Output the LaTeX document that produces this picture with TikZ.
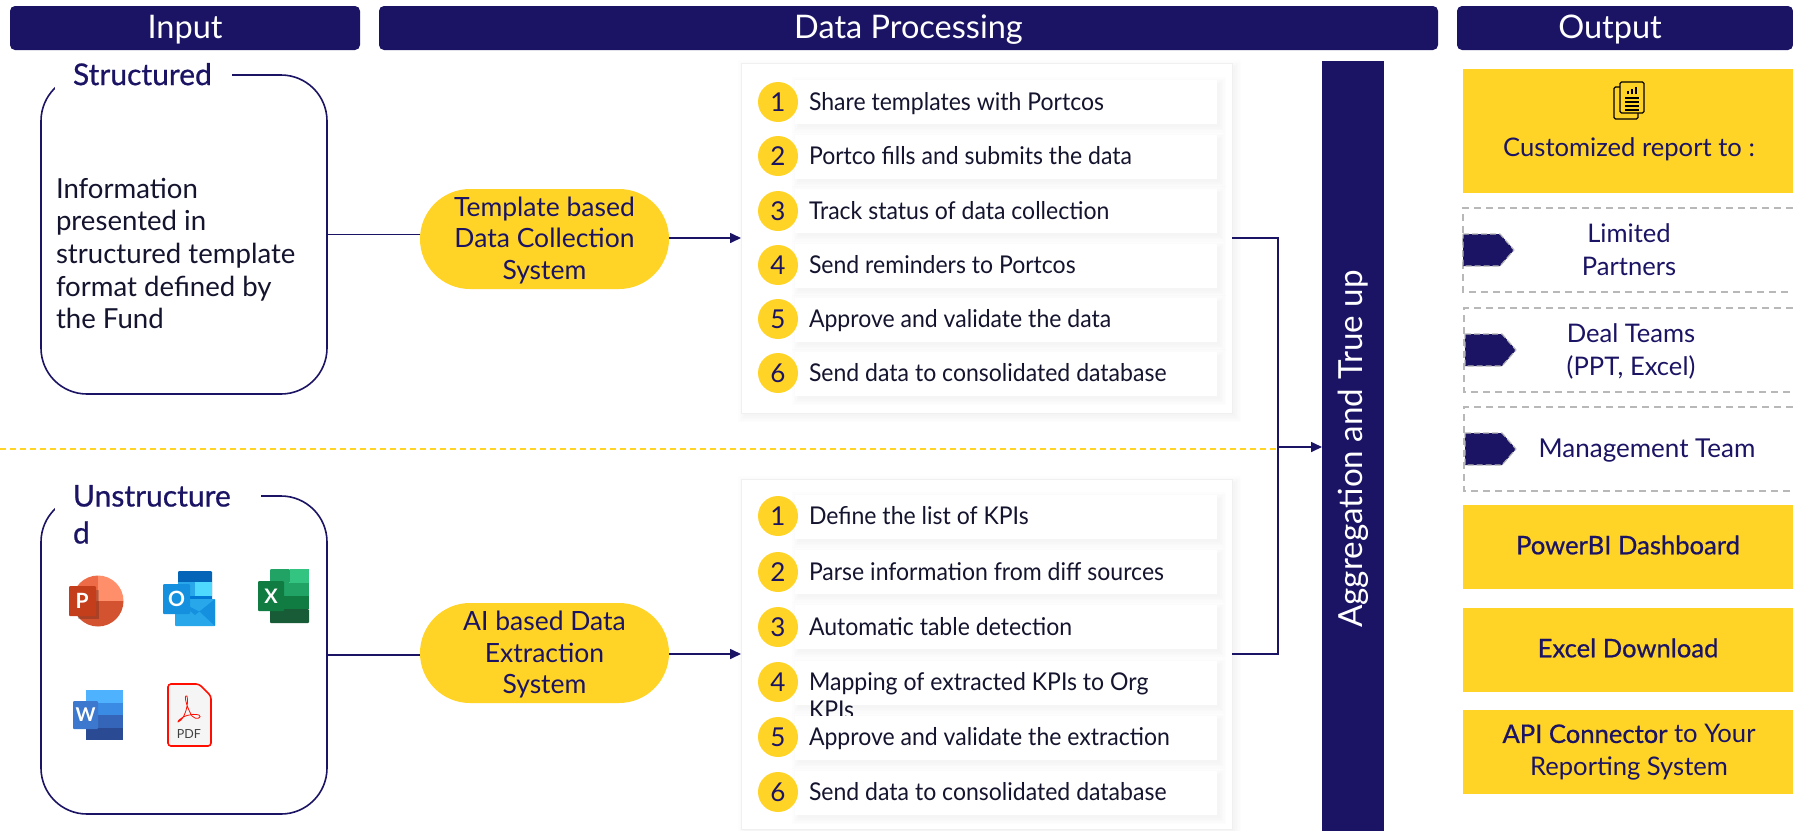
\documentclass[tikz,border=0pt]{standalone}
\usepackage{fontspec}
\setmainfont{Lato}
\newfontfamily\medfont[FakeBold=0.7]{Lato}
\newfontfamily\rowfont[FakeStretch=0.94]{Lato}
\usetikzlibrary{arrows.meta,shapes.geometric,shapes.misc}
\definecolor{navy}{HTML}{1B1464}
\definecolor{gold}{HTML}{FFD426}
\definecolor{ink}{HTML}{14142E}
\definecolor{ppa}{HTML}{FF8F6B}\definecolor{ppb}{HTML}{ED6C47}\definecolor{ppc}{HTML}{D35230}\definecolor{ppd}{HTML}{C43E1C}
\definecolor{ola}{HTML}{0364B8}\definecolor{olb}{HTML}{0078D4}\definecolor{olc}{HTML}{28A8EA}\definecolor{old}{HTML}{50D9FF}\definecolor{ole}{HTML}{1490DF}
\definecolor{xla}{HTML}{21A366}\definecolor{xlb}{HTML}{33C481}\definecolor{xlc}{HTML}{107C41}\definecolor{xld}{HTML}{185C37}
\definecolor{wda}{HTML}{4FB2FF}\definecolor{wdb}{HTML}{3A8BE3}\definecolor{wdc}{HTML}{3565B8}\definecolor{wdd}{HTML}{2B4A94}\definecolor{wde}{HTML}{3B78CE}
\newcommand{\softshadow}[5]{% x1 y1 x2 y2 opacity
  \foreach \g in {0,1.5,3,4.5,6}{\fill[black,opacity=#5] (#1+3-\g,#2+3-\g) rectangle (#3+3+\g,#4+3+\g);}}
\newcommand{\steprow}[5]{% name, y circle, strip bottom, number, text
  \softshadow{795}{#3-44}{1217}{#3}{0.009}
  \node[striprow,minimum height=44pt] (#1s) at (1006,#3-22) {};
  \node[rowtext,anchor=base west] (#1t) at (809,#2+8) {#5};
  \node[numdot] (#1c) at (778,#2) {#4};}
\tikzset{
  x=1pt,y=-1pt,
  every node/.style={inner sep=0pt,outer sep=0pt},
  header/.style={fill=navy,rounded corners=5pt,text=white,font=\fontsize{32.5}{36}\selectfont,align=center,text height=22pt,text depth=1pt},
  link/.style={draw=navy,line width=1.6pt},
  arrowlink/.style={link,-{Triangle[length=11pt,width=10pt]}},
  sourcebox/.style={draw=navy,line width=1.6pt,rounded corners=46pt,fill=white,minimum width=286pt},
  boxtitle/.style={fill=white,text=navy,font=\medfont\fontsize{30}{37}\selectfont,align=left,anchor=north west},
  pill/.style={fill=gold,rounded rectangle,minimum width=249pt,minimum height=100pt,text=navy,align=center,font=\fontsize{26.5}{31.5}\selectfont},
  panel/.style={fill=white,draw=black!6,line width=.7pt,minimum width=491pt,minimum height=350pt},
  striprow/.style={fill=white,minimum width=422pt},
  rowtext/.style={anchor=west,text=ink,align=left,font=\rowfont\fontsize{24.5}{27.5}\selectfont},
  numdot/.style={circle,fill=gold,minimum size=40pt,text=navy,font=\fontsize{26}{30}\selectfont},
  outbox/.style={fill=gold,minimum width=331pt,text=navy,align=center,font=\fontsize{25.6}{33}\selectfont},
  outlabel/.style={text=navy,align=center,font=\fontsize{25.6}{33}\selectfont},
  dashbox/.style={draw=black!28,line width=1.2pt,dash pattern=on 7pt off 5pt},
  tagshape/.style={fill=navy,draw=black!28,line width=1.2pt,dash pattern=on 6pt off 3pt,line join=round},
}
\begin{document}
\begin{tikzpicture}
\useasboundingbox (0,0) rectangle (1793,830);
\clip (0,0) rectangle (1793,830);
\fill[white] (0,0) rectangle (1793,830);

% headers
\node[header,minimum width=350pt,minimum height=44pt] (hinput) at (185,28) {Input};
\node[header,minimum width=1059pt,minimum height=44pt] (hproc) at (908.5,28) {Data Processing};
\node[header,minimum width=336pt,minimum height=44pt] (hout) at (1625,28) {};
\node[text=white,font=\fontsize{32.5}{36}\selectfont,anchor=base] (houtt) at (1610,38.5) {Output};

% divider
\draw[gold,line width=1.2pt,dash pattern=on 6pt off 4pt] (0,449) -- (1278,449);

% source boxes
\node[sourcebox,minimum height=319pt] (sbox) at (184,234.5) {};
\node[sourcebox,minimum height=318pt] (ubox) at (184,655) {};
\fill[white] (55,60) rectangle (232,100);
\fill[white] (55,480) rectangle (261,530);
\node[boxtitle] (stitle) at (73,63) {Structured};
\node[boxtitle] (utitle) at (73,485) {Unstructure\\d};
\node[anchor=north west,text=ink,align=left,font=\fontsize{27.6}{32.6}\selectfont] (stext) at (56,178)
  {Information\\presented in\\structured template\\format defined by\\the Fund};

% PowerPoint icon
\begin{scope}
\clip (98,601) circle[radius=25.5];
\fill[ppb] (70,570) rectangle (98,601);
\fill[ppa] (98,570) rectangle (125,601);
\fill[ppc] (70,601) rectangle (125,630);
\end{scope}
\fill[black,opacity=.2] (78,590) rectangle (99,619);
\fill[ppd,rounded corners=1pt] (69,586) rectangle (96,616);
\node[text=white,font=\bfseries\fontsize{21}{21}\selectfont] (pp) at (82,601) {P};
% Outlook icon
\fill[ola,rounded corners=1pt] (178,571) rectangle (212,610);
\fill[old] (195,582) rectangle (212,596);
\fill[olc] (178,582) rectangle (195,596);
\fill[olb] (195,596) rectangle (212,610);
\fill[olb] (178,596) rectangle (195,610);
\fill[olc,rounded corners=1pt] (175,599) -- (215,599) -- (215,626) -- (175,626) -- cycle;
\fill[ole] (175,599) -- (195,615) -- (215,599) -- (215,626) -- (200,612) -- cycle;
\fill[ole,rounded corners=1pt] (163,584) rectangle (190,614);
\node[text=white,font=\bfseries\fontsize{21}{21}\selectfont] (ol) at (176.5,599) {O};
% Excel icon
\fill[xla,rounded corners=1pt] (270,569) rectangle (290,583);
\fill[xlb] (290,569) rectangle (309,583);
\fill[xla] (270,583) rectangle (309,596);
\fill[xlc] (270,596) rectangle (309,609);
\fill[xld,rounded corners=1pt] (270,609) rectangle (309,623);
\fill[xlc,rounded corners=1pt] (258,581) rectangle (284,611);
\node[text=white,font=\bfseries\fontsize{20}{20}\selectfont] (xl) at (271,596) {X};
% Word icon
\fill[wda] (86,690) rectangle (123,703);
\fill[wdb] (86,703) rectangle (123,715);
\fill[wdc] (86,715) rectangle (123,728);
\fill[wdd] (86,728) rectangle (123,740);
\fill[wde,rounded corners=1pt] (73,701) rectangle (98,729);
\node[text=white,font=\bfseries\fontsize{19}{19}\selectfont] (wd) at (85.5,715) {W};
% PDF icon
\filldraw[fill=black!4,draw=red!90!orange,line width=1.6pt,rounded corners=3pt] (168,684) -- (199,684) -- (211,696) -- (211,746) -- (168,746) -- cycle;
\draw[red!90!orange,line width=.8pt] (187,696) .. controls (183,694) and (187,708) .. (192,716) .. controls (196,721) and (203,717) .. (199,715) .. controls (192,713) and (183,716) .. (179,720) .. controls (177,723) and (178,722) .. (181,720) .. controls (185,716) and (189,704) .. (187,696);
\node[text=black!75,font=\fontsize{12.5}{13}\selectfont] (pdf) at (189,734) {PDF};

% system pills
\node[pill] (tpill) at (544.5,239) {};
\node[text=navy,align=center,font=\fontsize{26.5}{31.5}\selectfont] (tpillt) at (544.5,240.5) {Template based\\Data Collection\\System};
\node[pill] (apill) at (544.5,653) {};
\node[text=navy,align=center,font=\fontsize{26.5}{31.5}\selectfont] (apillt) at (544.5,655) {AI based Data\\Extraction\\System};

% panel 1
\softshadow{741}{63}{1232}{413}{0.009}
\node[panel] (panela) at (986.5,238) {};
\steprow{a1}{102}{124}{1}{Share templates with Portcos}
\steprow{a2}{156}{179}{2}{Portco fills and submits the data}
\steprow{a3}{211}{233}{3}{Track status of data collection}
\steprow{a4}{265}{288}{4}{Send reminders to Portcos}
\steprow{a5}{319}{342}{5}{Approve and validate the data}
\steprow{a6}{373}{396}{6}{Send data to consolidated database}

% panel 2
\softshadow{741}{479}{1232}{829}{0.009}
\node[panel] (panelb) at (986.5,654) {};
\steprow{b1}{516}{539}{1}{Define the list of KPIs}
\steprow{b2}{572}{594}{2}{Parse information from diff sources}
\steprow{b3}{627}{649}{3}{Automatic table detection}
\softshadow{795}{661}{1217}{705}{0.009}
\node[striprow,minimum height=44pt] (b4s) at (1006,683) {};
\node[rowtext,anchor=north west] (b4t) at (809,672.5) {Mapping of extracted KPIs to Org\\KPIs};
\node[numdot] (b4c) at (778,682) {4};
\steprow{b5}{737}{760}{5}{Approve and validate the extraction}
\steprow{b6}{792}{815}{6}{Send data to consolidated database}

% aggregation bar
\node[fill=navy,minimum width=62pt,minimum height=780pt] (agg) at (1353,451) {};
\node[rotate=90,text=white,font=\fontsize{33.2}{38}\selectfont] (aggt) at (1353,449) {Aggregation and True up};

% connectors
\coordinate (join) at (1278,238);
\coordinate (joinmid) at (1278,447);
\draw[link] (sbox.east) -- (sbox.east -| tpill.west);
\draw[link] (ubox.east) -- (ubox.east -| apill.west);
\draw[arrowlink] (tpill.east |- panela.west) -- (panela.west);
\draw[arrowlink] (apill.east |- panelb.west) -- (panelb.west);
\draw[link] (panela.east) -- (join) -- (join |- panelb.east) -- (panelb.east);
\draw[arrowlink] (joinmid) -- (joinmid -| agg.west);

% output
\node[outbox,minimum height=124pt] (rep) at (1628,131) {};
\node[outlabel] (rept) at (1629,149) {Customized report to :};
% report icon
\draw[black,line width=1.3pt,fill=gold,rounded corners=1.5pt] (1614,87) rectangle (1638,119);
\draw[black,line width=1.3pt,fill=gold,rounded corners=1.5pt] (1620,82) rectangle (1644,113);
\foreach \yy in {98,102,106,110}{\draw[black,line width=1.2pt] (1625,\yy) -- (1639,\yy);}
\foreach \xx/\yt in {1628/91,1632/89,1636/87}{\draw[black,line width=1.5pt] (\xx,94) -- (\xx,\yt);}

\draw[dashbox] (1793,208) -- (1463,208) -- (1463,292) -- (1793,292);
\draw[dashbox] (1793,308) -- (1464,308) -- (1464,392) -- (1793,392);
\draw[dashbox] (1793,407) -- (1464,407) -- (1464,491) -- (1793,491);
\draw[tagshape] (1463,234) -- (1500,234) -- (1514,250) -- (1500,266) -- (1463,266) -- cycle;
\draw[tagshape] (1465,334) -- (1502,334) -- (1516,350) -- (1502,366) -- (1465,366) -- cycle;
\draw[tagshape] (1465,433) -- (1502,433) -- (1516,449) -- (1502,465) -- (1465,465) -- cycle;
\node[outlabel] (lp) at (1629,250) {Limited\\Partners};
\node[outlabel] (dt) at (1631,351) {Deal Teams\\(PPT, Excel)};
\node[outlabel,font=\fontsize{26}{33}\selectfont] (mt) at (1647,451) {Management Team};

\node[outbox,minimum height=84pt] (pbi) at (1628,547) {};
\node[text=navy,font=\medfont\fontsize{25.6}{33}\selectfont] (pbit) at (1628,545) {PowerBI Dashboard};
\node[outbox,minimum height=84pt] (xd) at (1628,650) {};
\node[text=navy,font=\medfont\fontsize{25.6}{33}\selectfont] (xdt) at (1628,648) {Excel Download};
\node[outbox,minimum height=84pt] (api) at (1628,752) {};
\node[outlabel] (apit) at (1629,752.5) {{\medfont API Connector} to Your\\Reporting System};
\end{tikzpicture}
\end{document}
